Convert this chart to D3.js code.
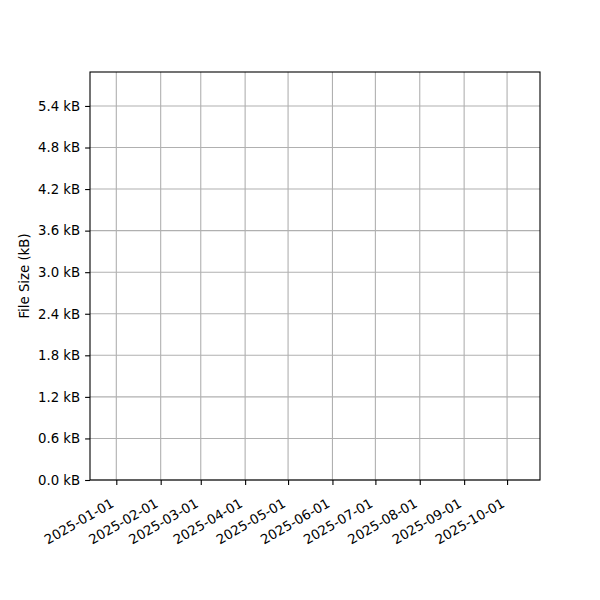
<!DOCTYPE html>
<html>
<head>
<meta charset="utf-8">
<script src="https://cdn.jsdelivr.net/npm/d3@7"></script>
<style>
  body { margin: 0; background: #fff; }
  text { font-family: "DejaVu Sans", sans-serif; }
</style>
</head>
<body>
<div id="chart"></div>
<script>
// tick values (the plot itself has no data)
var xTickDates = ["2025-01-01", "2025-02-01", "2025-03-01", "2025-04-01", "2025-05-01",
                  "2025-06-01", "2025-07-01", "2025-08-01", "2025-09-01", "2025-10-01"];
var yTicks = [0, 0.6, 1.2, 1.8, 2.4, 3.0, 3.6, 4.2, 4.8, 5.4];
var xDomain = ["2024-12-13T15:00:00Z", "2025-10-24T00:00:00Z"];
var yDomain = [0, 5.89];
var yLabel = "File Size (kB)";

var margin = {top: 72, right: 60, bottom: 120, left: 90},
    width = 600 - margin.left - margin.right,
    height = 600 - margin.top - margin.bottom;

var svg = d3.select("#chart")
  .append("svg")
    .attr("width", 600)
    .attr("height", 600)
  .append("g")
    .attr("transform", "translate(" + margin.left + "," + margin.top + ")");

var parse = d3.utcParse("%Y-%m-%d");
var fmt = d3.utcFormat("%Y-%m-%d");

var x = d3.scaleUtc()
  .domain(xDomain.map(function(d) { return new Date(d); }))
  .range([0, width]);

var y = d3.scaleLinear()
  .domain(yDomain)
  .range([height, 0]);

var tickDates = xTickDates.map(parse);

// grid
svg.append("g")
  .selectAll("line.vg")
  .data(tickDates)
  .enter().append("line")
    .attr("x1", function(d) { return x(d); })
    .attr("x2", function(d) { return x(d); })
    .attr("y1", 0)
    .attr("y2", height)
    .attr("stroke", "#b0b0b0")
    .attr("stroke-width", 1.1);

svg.append("g")
  .selectAll("line.hg")
  .data(yTicks)
  .enter().append("line")
    .attr("x1", 0)
    .attr("x2", width)
    .attr("y1", function(d) { return y(d); })
    .attr("y2", function(d) { return y(d); })
    .attr("stroke", "#b0b0b0")
    .attr("stroke-width", 1.1);

// x axis
var xAxis = svg.append("g")
  .attr("transform", "translate(0," + height + ")")
  .call(d3.axisBottom(x).tickValues(tickDates).tickFormat(fmt).tickSize(4.9).tickSizeOuter(0));
xAxis.select(".domain").remove();
xAxis.selectAll("line").attr("stroke", "#000").attr("stroke-width", 1.1);
xAxis.selectAll("text")
  .attr("y", 0).attr("dy", null)
  .attr("transform", "translate(-2,26)rotate(-30)")
  .style("text-anchor", "end")
  .style("font-size", "13.3px")
  .attr("fill", "#000");

// y axis
var yAxis = svg.append("g")
  .call(d3.axisLeft(y).tickValues(yTicks)
    .tickFormat(function(d) { return d3.format(".1f")(d) + " kB"; })
    .tickSize(4.9).tickSizeOuter(0).tickPadding(4.9));
yAxis.select(".domain").remove();
yAxis.selectAll("line").attr("stroke", "#000").attr("stroke-width", 1.1);
yAxis.selectAll("text")
  .style("font-size", "13.3px")
  .attr("fill", "#000");

// frame
svg.append("rect")
  .attr("width", width)
  .attr("height", height)
  .attr("fill", "none")
  .attr("stroke", "#000")
  .attr("stroke-width", 1.1);

// y label
svg.append("text")
  .attr("transform", "translate(" + (29 - margin.left) + "," + (height / 2) + ")rotate(-90)")
  .attr("text-anchor", "middle")
  .style("font-size", "13.3px")
  .text(yLabel);
</script>
</body>
</html>
